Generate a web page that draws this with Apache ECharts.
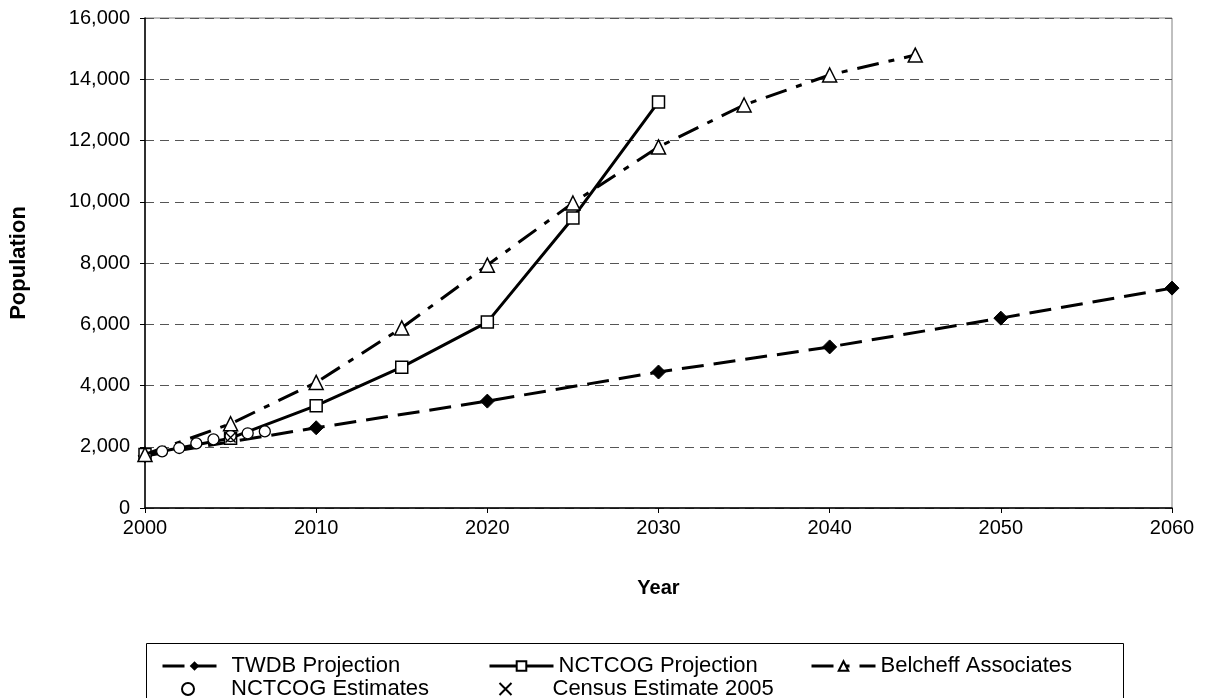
<!DOCTYPE html>
<html><head><meta charset="utf-8">
<script src="https://cdn.jsdelivr.net/npm/echarts@6/dist/echarts.min.js"></script>
<style>html,body{margin:0;padding:0;background:#fff}#c{width:1206px;height:698px}</style>
</head><body><div id="c"></div>
<script>
const twdbYears = [2000, 2010, 2020, 2030, 2040, 2050, 2060];
const twdbValues = [1700, 2620, 3490, 4440, 5260, 6200, 7180];
const nctcogYears = [2000, 2005, 2010, 2015, 2020, 2025, 2030];
const nctcogValues = [1750, 2280, 3340, 4600, 6070, 9470, 13260];
const belcheffYears = [2000, 2005, 2010, 2015, 2020, 2025, 2030, 2035, 2040, 2045];
const belcheffValues = [1750, 2750, 4100, 5880, 7930, 9960, 11790, 13160, 14140, 14790];
const estYears = [2001, 2002, 2003, 2004, 2005, 2006, 2007];
const estValues = [1850, 1960, 2110, 2240, 2350, 2440, 2500];
const censusYears = [2005];
const censusValues = [2300];
const seriesNames = ['TWDB Projection', 'NCTCOG Projection', 'Belcheff Associates', 'NCTCOG Estimates', 'Census Estimate 2005'];

const zip = (xs, ys) => xs.map((x, i) => [x, ys[i]]);
const font = 'Arial, "Liberation Sans", sans-serif';
const chart = echarts.init(document.getElementById('c'));
const xPath = 'path://M0,0L10,10M10,0L0,10';

function mkLegend(name, left, top, pad) {
  return {
    data: [name], left: left, top: top, itemWidth: 64, itemHeight: 12, itemGap: 6,
    textStyle: { fontFamily: font, fontSize: 22, color: '#000', padding: [0, 0, 0, pad || 0] },
    lineStyle: { width: 3 },
    selectedMode: false
  };
}

chart.setOption({
  animation: false,
  backgroundColor: '#fff',
  grid: { left: 144, right: 34, top: 18, bottom: 190, show: true, borderColor: '#808080', borderWidth: 1 },
  xAxis: {
    type: 'value', min: 2000, max: 2060, interval: 10,
    name: 'Year', nameLocation: 'middle', nameGap: 70,
    nameTextStyle: { fontFamily: font, fontSize: 20, fontWeight: 'bold', color: '#000' },
    axisLine: { show: true, lineStyle: { color: '#000', width: 1.5 } },
    axisTick: { show: true, length: 5, lineStyle: { color: '#000' } },
    axisLabel: { fontFamily: font, fontSize: 20, color: '#000', margin: 10, formatter: v => String(v) },
    splitLine: { show: false }
  },
  yAxis: {
    type: 'value', min: 0, max: 16000, interval: 2000,
    name: 'Population', nameLocation: 'middle', nameGap: 115,
    nameTextStyle: { fontFamily: font, fontSize: 22, fontWeight: 'bold', color: '#000' },
    axisLine: { show: true, lineStyle: { color: '#000', width: 1.5 } },
    axisTick: { show: true, length: 5, lineStyle: { color: '#000' } },
    axisLabel: { fontFamily: font, fontSize: 20, color: '#000', margin: 15,
      formatter: v => v.toLocaleString('en-US') },
    splitLine: { show: true, lineStyle: { color: '#555', type: [9, 6], width: 1 } }
  },
  legend: [
    mkLegend(seriesNames[0], 156, 650),
    mkLegend(seriesNames[1], 483, 650),
    mkLegend(seriesNames[2], 805, 650),
    mkLegend(seriesNames[3], 176, 673, 6),
    mkLegend(seriesNames[4], 492, 673, 10)
  ],
  graphic: [{
    type: 'rect', left: 144, top: 641, shape: { width: 977, height: 70 },
    style: { fill: 'none', stroke: '#000', lineWidth: 1 }, silent: true
  }],
  series: [
    {
      name: seriesNames[0], type: 'line', data: zip(twdbYears, twdbValues),
      symbol: 'diamond', symbolSize: 14, z: 3,
      lineStyle: { color: '#000', width: 3, type: [22, 10] },
      itemStyle: { color: '#000', borderColor: '#000' }
    },
    {
      name: seriesNames[1], type: 'line', data: zip(nctcogYears, nctcogValues),
      symbol: 'rect', symbolSize: 12, z: 4,
      lineStyle: { color: '#000', width: 3, type: 'solid' },
      itemStyle: { color: '#fff', borderColor: '#000', borderWidth: 1.5 }
    },
    {
      name: seriesNames[2], type: 'line', data: zip(belcheffYears, belcheffValues),
      symbol: 'triangle', symbolSize: 14, z: 5,
      lineStyle: { color: '#000', width: 3, type: [22, 10, 6, 10] },
      itemStyle: { color: '#fff', borderColor: '#000', borderWidth: 1.5 }
    },
    {
      name: seriesNames[3], type: 'scatter', data: zip(estYears, estValues),
      symbol: 'circle', symbolSize: 11, z: 6,
      itemStyle: { color: '#fff', borderColor: '#000', borderWidth: 1.3, opacity: 1 }
    },
    {
      name: seriesNames[4], type: 'scatter', data: zip(censusYears, censusValues),
      symbol: xPath, symbolSize: 10, z: 7,
      itemStyle: { color: 'none', borderColor: '#000', borderWidth: 1.3, opacity: 1 }
    }
  ]
});
</script></body></html>
